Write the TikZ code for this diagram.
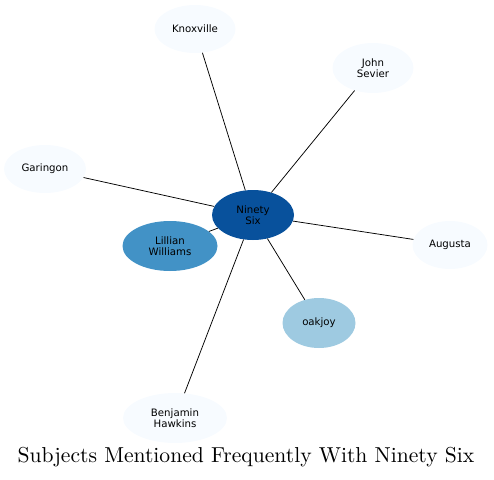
\documentclass[tikz,border=0pt]{standalone}
\usepackage{fontspec}
\newfontfamily\nodefont{DejaVu Sans}
\newfontfamily\titlefont{lmroman10-regular.otf}
\usetikzlibrary{shapes.geometric}
\definecolor{c0}{HTML}{08519C}
\definecolor{c1}{HTML}{4292C6}
\definecolor{c2}{HTML}{9ECAE1}
\definecolor{c3}{HTML}{F7FBFF}
\tikzset{
  ent/.style={ellipse, inner sep=0pt, minimum height=50pt, font=\nodefont\fontsize{10.2}{11.5}\selectfont, align=center, draw=none},
  link/.style={draw=black, line width=0.75pt},
}
\begin{document}
\begin{tikzpicture}[x=1pt,y=-1pt]
\useasboundingbox (0,0) rectangle (494,479);
\node[ent, fill=c0, minimum width=82pt] (ns) at (253,215) {Ninety\\Six};
\node[ent, fill=c1, minimum width=95pt] (lw) at (170,246) {Lillian\\Williams};
\node[ent, fill=c2, minimum width=73pt] (oj) at (319,323) {oakjoy};
\node[ent, fill=c3, minimum width=81pt, minimum height=48pt] (kn) at (195,29) {Knoxville};
\node[ent, fill=c3, minimum width=81pt] (js) at (373,68) {John\\Sevier};
\node[ent, fill=c3, minimum width=82pt, minimum height=48pt] (ga) at (45,169) {Garingon};
\node[ent, fill=c3, minimum width=75pt, minimum height=48pt] (au) at (450,245) {Augusta};
\node[ent, fill=c3, minimum width=104pt] (bh) at (175,418) {Benjamin\\Hawkins};
\foreach \t in {lw,oj,kn,js,ga,au,bh} {\draw[link] (ns) -- (\t);}
\node (title) at (246,457) {\titlefont\fontsize{21.6}{25}\selectfont Subjects Mentioned Frequently With Ninety Six};
\end{tikzpicture}
\end{document}
